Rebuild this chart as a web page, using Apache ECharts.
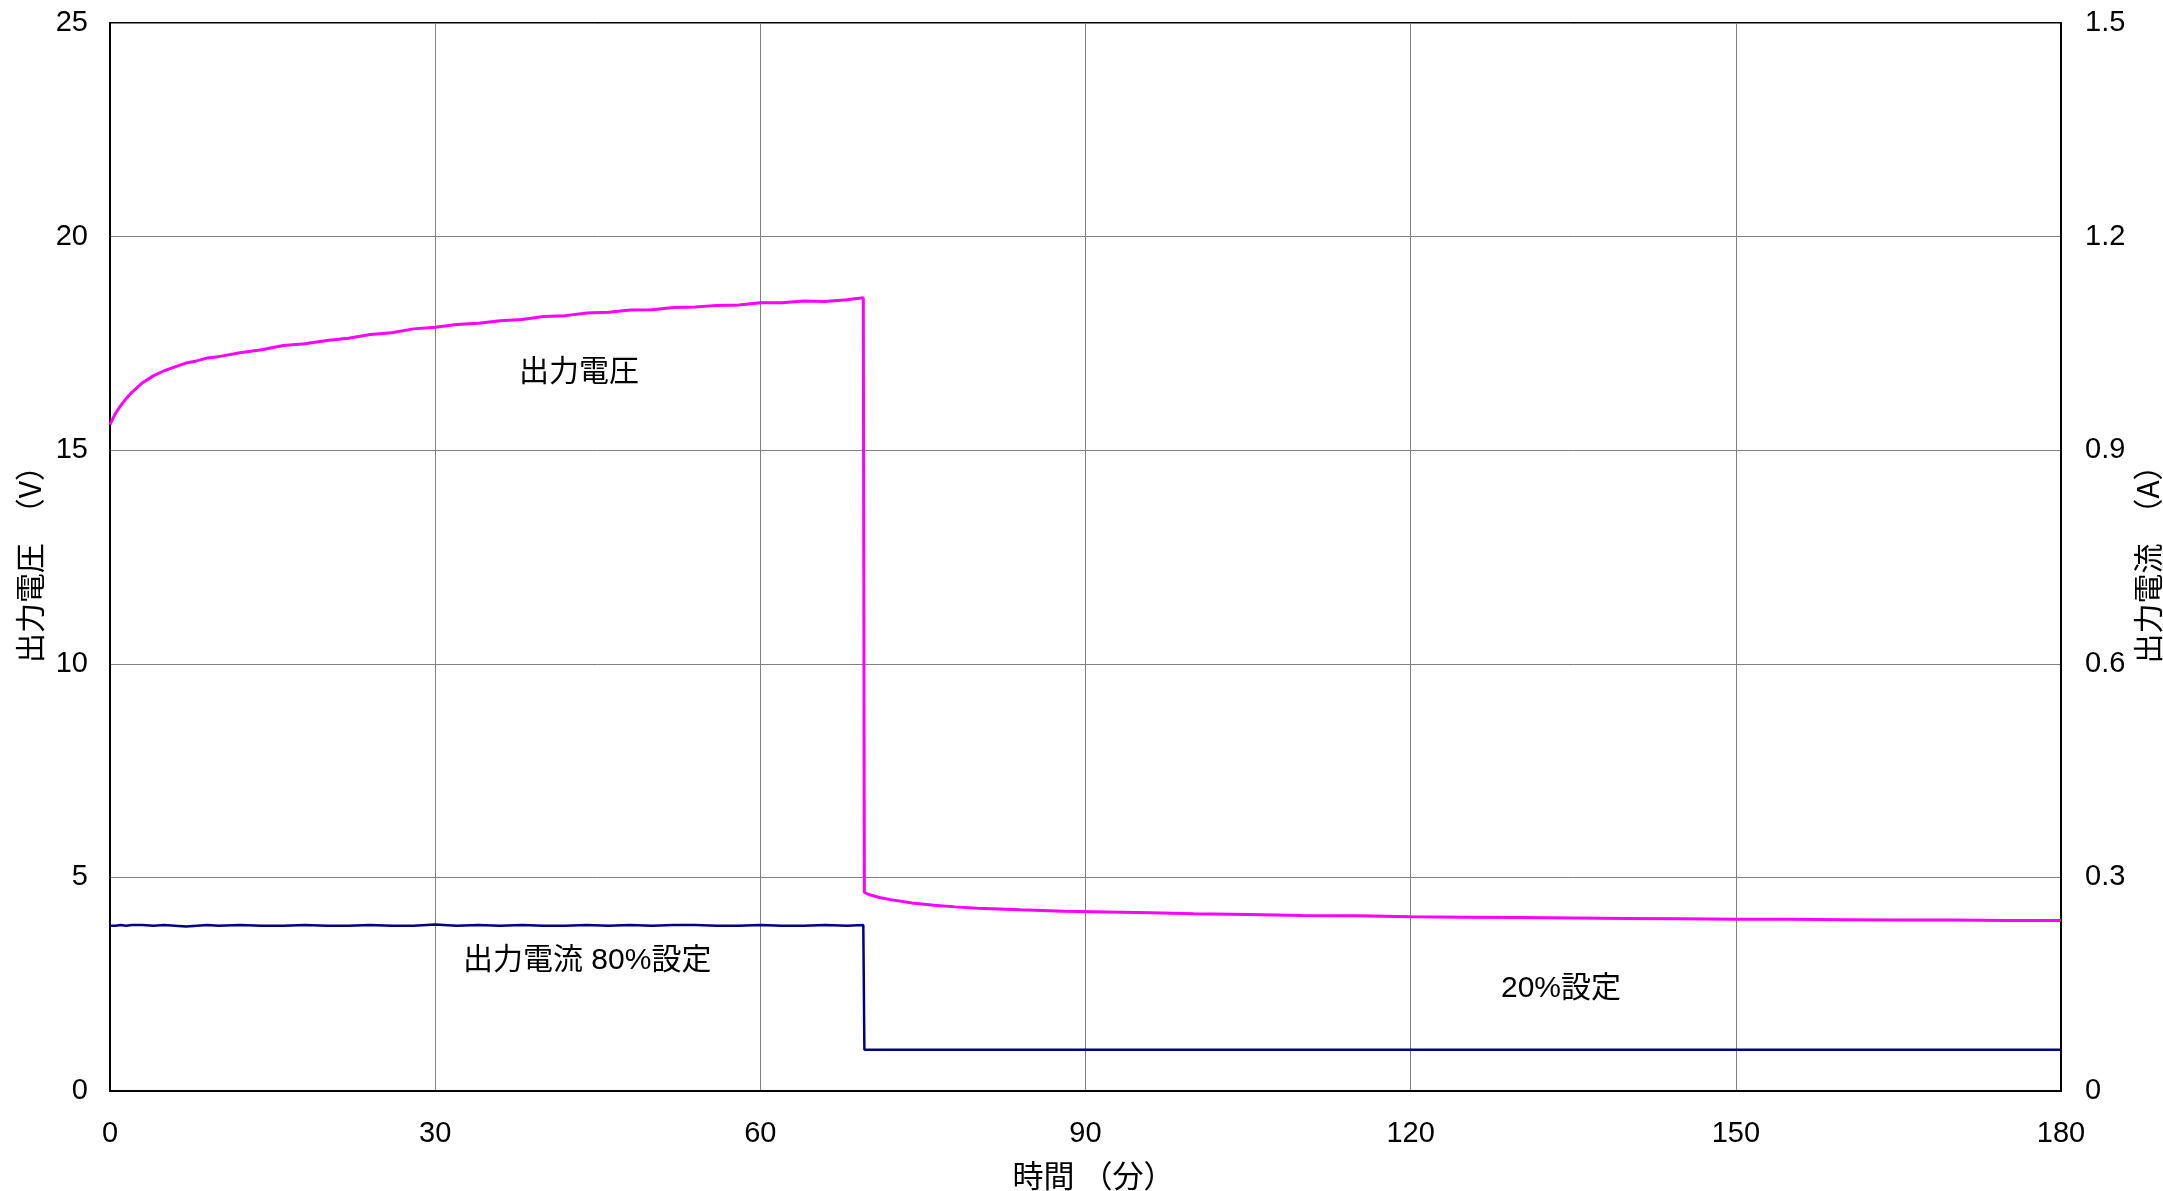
<!DOCTYPE html>
<html>
<head>
<meta charset="utf-8">
<script src="https://cdn.jsdelivr.net/npm/echarts@6/dist/echarts.min.js"></script>
<style>
html,body{margin:0;padding:0;background:#fff;}
#chart{width:2163px;height:1191px;}
</style>
</head>
<body>
<div id="chart"></div>
<script>
// time in minutes
var timeMin = [0,0.5,1,1.5,2,3,4,5,6,7,8,9,10,12,14,16,18,20,22,24,26,28,30,32,34,36,38,40,42,44,46,48,50,52,54,56,58,60,62,64,66,68,69.5,69.6,70,71,72,74,76,78,80,84,88,92,96,100,105,110,115,120,125,130,135,140,145,150,155,160,165,170,175,180];
// output voltage (V)
var voltage = [15.60,15.86,16.05,16.21,16.35,16.58,16.74,16.86,16.95,17.04,17.09,17.16,17.19,17.28,17.35,17.45,17.49,17.57,17.62,17.71,17.75,17.84,17.88,17.94,17.97,18.03,18.06,18.13,18.15,18.21,18.23,18.28,18.29,18.34,18.35,18.39,18.40,18.45,18.45,18.49,18.48,18.52,18.57,4.65,4.60,4.53,4.48,4.40,4.35,4.31,4.28,4.24,4.21,4.19,4.17,4.15,4.13,4.11,4.10,4.08,4.07,4.06,4.05,4.04,4.03,4.02,4.02,4.01,4.00,4.00,3.99,3.99];
// output current (A)
var current = [0.232,0.232,0.233,0.232,0.233,0.233,0.232,0.233,0.232,0.231,0.232,0.233,0.232,0.233,0.232,0.232,0.233,0.232,0.232,0.233,0.232,0.232,0.234,0.232,0.233,0.232,0.233,0.232,0.232,0.233,0.232,0.233,0.232,0.233,0.233,0.232,0.232,0.233,0.232,0.232,0.233,0.232,0.233,0.058,0.058,0.058,0.058,0.058,0.058,0.058,0.058,0.058,0.058,0.058,0.058,0.058,0.058,0.058,0.058,0.058,0.058,0.058,0.058,0.058,0.058,0.058,0.058,0.058,0.058,0.058,0.058,0.058];
var xTicks = [0,30,60,90,120,150,180];
var vTicks = [0,5,10,15,20,25];
var aTicks = [0,0.3,0.6,0.9,1.2,1.5];

var FONT = "'Liberation Sans','Noto Sans CJK JP',sans-serif";
var JP = "'Noto Sans CJK JP',sans-serif";

function pairs(xs, ys){ return xs.map(function(x,i){ return [x, ys[i]]; }); }

var chart = echarts.init(document.getElementById('chart'), null, {renderer:'canvas'});
chart.setOption({
  animation:false,
  backgroundColor:'#fff',
  grid:{left:110, right:102, top:23, bottom:100, show:true, borderColor:'#000', borderWidth:2, containLabel:false, outerBoundsMode:'none'},
  xAxis:{
    type:'value', min:0, max:180, interval:30,
    name:'時間 （分）', nameLocation:'middle', nameGap:69, nameMoveOverlap:false,
    nameTextStyle:{fontSize:31, color:'#000', fontFamily:JP, padding:[0,0,0,16]},
    axisLine:{show:true, lineStyle:{color:'#000', width:2}},
    axisTick:{show:false},
    axisLabel:{fontSize:29, color:'#000', margin:28, fontFamily:FONT},
    splitLine:{show:true, lineStyle:{color:'#808080', width:1}}
  },
  yAxis:[{
    type:'value', min:0, max:25, interval:5, position:'left',
    name:'出力電圧　（V）', nameLocation:'middle', nameGap:65, nameRotate:90, nameMoveOverlap:false,
    nameTextStyle:{fontSize:30, color:'#000', fontFamily:JP},
    axisLine:{show:true, lineStyle:{color:'#000', width:2}},
    axisTick:{show:false},
    axisLabel:{fontSize:29, color:'#000', margin:22, fontFamily:FONT},
    splitLine:{show:true, lineStyle:{color:'#808080', width:1}}
  },{
    type:'value', min:0, max:1.5, interval:0.3, position:'right',
    name:'出力電流　（A）', nameLocation:'middle', nameGap:72, nameRotate:90, nameMoveOverlap:false,
    nameTextStyle:{fontSize:30, color:'#000', fontFamily:JP},
    axisLine:{show:true, lineStyle:{color:'#000', width:2}},
    axisTick:{show:false},
    axisLabel:{fontSize:29, color:'#000', margin:24, fontFamily:FONT,
      formatter:function(v){ return v===0 ? '0' : v.toFixed(1); }},
    splitLine:{show:false}
  }],
  series:[{
    type:'line', yAxisIndex:0, data:pairs(timeMin, voltage), showSymbol:false,
    lineStyle:{color:'#FF00FF', width:3}, itemStyle:{color:'#FF00FF'}
  },{
    type:'line', yAxisIndex:1, data:pairs(timeMin, current), showSymbol:false,
    lineStyle:{color:'#000080', width:2.5}, itemStyle:{color:'#000080'}
  }],
  graphic:[
    {type:'text', left:519, top:355, style:{text:'出力電圧', fontSize:30, fill:'#000', fontFamily:JP}},
    {type:'text', left:463, top:946, style:{text:'出力電流 80%設定', fontSize:30, fill:'#000', fontFamily:FONT}},
    {type:'text', left:1501, top:974, style:{text:'20%設定', fontSize:30, fill:'#000', fontFamily:FONT}}
  ]
});
</script>
</body>
</html>
